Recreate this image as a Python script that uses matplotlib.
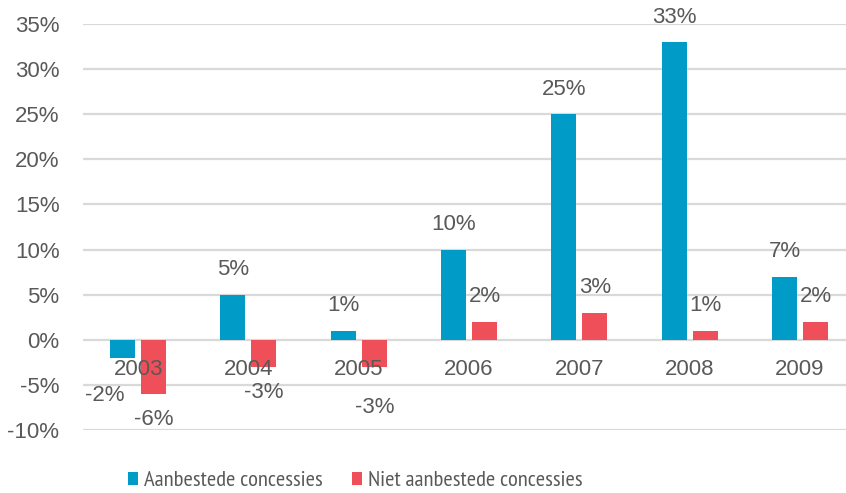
import matplotlib
matplotlib.use("Agg")
import matplotlib.pyplot as plt
import numpy as np
from matplotlib.patches import Patch

# data
years = ["2003", "2004", "2005", "2006", "2007", "2008", "2009"]
aanbesteed = [-2, 5, 1, 10, 25, 33, 7]
niet_aanbesteed = [-6, -3, -3, 2, 3, 1, 2]
series_names = ["Aanbestede concessies", "Niet aanbestede concessies"]

blue = "#009BC6"
red = "#EF4F58"
text_col = "#595959"
grid_col = "#D9D9D9"

plt.rcParams["font.family"] = ["Liberation Sans", "DejaVu Sans"]
fs = 16

W, H = 846, 493
fig = plt.figure(figsize=(W / 100, H / 100), dpi=100)
# axes: left 83px, y=35% at 24px, y=-10% at 430px
ax = fig.add_axes([83 / W, (H - 430) / H, (W - 83) / W, 406 / H])

x = np.arange(len(years))
cat_px = 110.3
bw = 25 / cat_px
gap = 6 / cat_px
off = (bw + gap) / 2

ax.bar(x - off, aanbesteed, bw, color=blue, zorder=2)
ax.bar(x + off, niet_aanbesteed, bw, color=red, zorder=2)

ax.set_xlim(-0.5, -0.5 + (W - 83) / cat_px)
ax.set_ylim(-10, 35)
ax.set_yticks(range(-10, 36, 5))
ax.set_yticklabels([f"{v}%" for v in range(-10, 36, 5)])
ax.yaxis.grid(True, color=grid_col, linewidth=1.6, zorder=0)
ax.set_axisbelow(True)

for s in ax.spines.values():
    s.set_visible(False)
ax.set_xticks([])
ax.tick_params(axis="y", length=0, pad=17, labelsize=fs, labelcolor=text_col)

# category labels sit on the zero line, drawn over the bars
for i, yr in enumerate(years):
    ax.annotate(yr, (i, 0), xytext=(0, -30), textcoords="offset pixels",
                ha="center", va="center", fontsize=fs, color=text_col, zorder=5)

# a few labels were nudged by hand in the original
nudge = {(0, 0): (-18, -12), (1, 2): (0, -15)}


def label_bars(vals, dx, si):
    for i, v in enumerate(vals):
        dy = 25 if v >= 0 else -26
        ex, ey = nudge.get((si, i), (0, 0))
        ax.annotate(f"{v}%", (i + dx, v), xytext=(ex, dy + ey),
                    textcoords="offset pixels", ha="center", va="center",
                    fontsize=fs, color=text_col, annotation_clip=False, zorder=5)


label_bars(aanbesteed, -off, 0)
label_bars(niet_aanbesteed, off, 1)

handles = [Patch(facecolor=blue), Patch(facecolor=red)]
fig.legend(handles, series_names, loc="center left",
           bbox_to_anchor=(108 / W, 1 - 481 / H), ncol=2, frameon=False,
           labelcolor=text_col, handlelength=0.45,
           handleheight=0.45, handletextpad=0.25, columnspacing=1.3,
           prop={"family": ["PT Sans Narrow", "DejaVu Sans"], "size": 16.2})

fig.savefig("out.png", dpi=100)
